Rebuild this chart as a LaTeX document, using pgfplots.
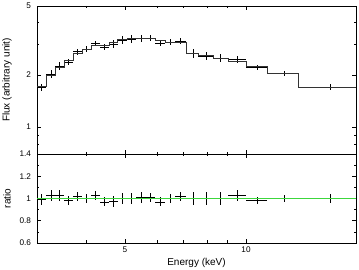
\documentclass[border=0pt]{standalone}
\usepackage{pgfplots}
\pgfplotsset{compat=1.18}
\usepackage{pgfplotstable}
\usepackage{fontspec}
\setmainfont{Liberation Sans}

% model steps: left bin edge, model flux (last row repeats at right edge)
\pgfplotstableread{
lo val
3.02 1.71
3.18 1.98
3.35 2.20
3.53 2.42
3.71 2.67
3.91 2.82
4.12 2.95
4.33 2.98
4.56 3.09
4.80 3.19
5.06 3.23
5.32 3.23
5.64 3.23
5.94 3.16
6.29 3.09
6.66 3.07
7.09 2.67
7.60 2.58
8.28 2.50
9.02 2.39
10.00 2.25
11.28 2.05
13.47 1.70
18.78 1.70
}\model

% data: centre, x error minus/plus, flux, flux error, ratio, ratio error
\pgfplotstableread{
x xm xp f fe r re
3.10 0.08 0.08 1.693 0.086 0.99 0.05
3.27 0.09 0.08 2.030 0.099 1.025 0.05
3.44 0.09 0.09 2.255 0.110 1.025 0.05
3.62 0.09 0.09 2.372 0.097 0.98 0.04
3.81 0.10 0.10 2.723 0.107 1.02 0.04
4.01 0.10 0.11 2.820 0.113 1.00 0.04
4.22 0.10 0.11 3.039 0.118 1.03 0.04
4.44 0.11 0.12 2.891 0.119 0.97 0.04
4.68 0.12 0.12 3.013 0.155 0.975 0.05
4.93 0.13 0.13 3.190 0.160 1.00 0.05
5.19 0.13 0.13 3.230 0.160 1.00 0.05
5.48 0.16 0.16 3.262 0.160 1.01 0.05
5.79 0.15 0.15 3.262 0.130 1.01 0.04
6.11 0.17 0.18 3.065 0.130 0.97 0.04
6.47 0.18 0.19 3.090 0.120 1.00 0.04
6.85 0.19 0.24 3.131 0.120 1.02 0.04
7.38 0.29 0.22 2.670 0.150 1.00 0.055
7.95 0.35 0.33 2.580 0.140 1.00 0.055
8.61 0.33 0.41 2.500 0.130 1.00 0.055
9.50 0.48 0.50 2.450 0.120 1.025 0.05
10.65 0.65 0.63 2.205 0.075 0.98 0.033
12.43 1.15 1.04 2.050 0.070 1.00 0.033
16.18 2.71 2.60 1.700 0.070 1.00 0.04
}\data

\definecolor{modelgreen}{RGB}{60,215,60}

\begin{document}
\begin{tikzpicture}
\useasboundingbox (0,0) rectangle (359pt,270pt);
\pgfplotsset{
  every axis/.append style={
    scale only axis, xmode=log, xmin=3.02, xmax=18.78, width=319pt,
    tick label style={font=\fontsize{8.2}{9}\selectfont},
    label style={font=\fontsize{9.3}{11}\selectfont},
    /pgf/number format/assume math mode=true,
    major tick length=4pt, minor tick length=2.5pt,
    axis line style={line width=0.6pt},
    every tick/.style={line width=0.6pt, black},
    yticklabel style={xshift=-2.5pt},
    xtick={5,10}, minor xtick={4,6,7,8,9},
    every axis y label/.style={at={(axis description cs:-0.094,0.5)}, rotate=90, anchor=center},
  },
}
\begin{axis}[
  at={(37pt,116pt)}, anchor=south west, height=148pt,
  ymode=log, ymin=0.7, ymax=5,
  ytick={1,2,5}, yticklabels={1,2,5}, minor ytick={0.8,0.9,3,4},
  xticklabels={},
  ylabel={Flux (arbitrary unit)},
]
\addplot[draw=none, mark=none,
  error bars/.cd, x dir=both, x explicit, y dir=both, y explicit, error mark=none,
  error bar style={line width=0.6pt, draw=black, solid}]
  table[x=x, y=f, x error plus=xp, x error minus=xm, y error=fe] {\data};
\addplot[black!80, line width=0.8pt, const plot mark left, mark=none] table[x=lo, y=val] {\model};
\end{axis}
\begin{axis}[
  at={(37pt,27pt)}, anchor=south west, height=89pt,
  ymin=0.6, ymax=1.4,
  ytick={0.6,0.8,1,1.2,1.4}, yticklabels={0.6,0.8,1,1.2,1.4},
  minor ytick={0.7,0.9,1.1,1.3},
  xticklabels={5,10},
  xlabel={Energy (keV)}, ylabel={ratio},
  every axis x label/.style={at={(axis description cs:0.5,-0.225)}, anchor=center},
]
\addplot[draw=none, mark=none,
  error bars/.cd, x dir=both, x explicit, y dir=both, y explicit, error mark=none,
  error bar style={line width=0.6pt, draw=black, solid}]
  table[x=x, y=r, x error plus=xp, x error minus=xm, y error=re] {\data};
\addplot[modelgreen, line width=1pt, mark=none] coordinates {(3.02,1) (18.78,1)};
\end{axis}
\end{tikzpicture}
\end{document}
